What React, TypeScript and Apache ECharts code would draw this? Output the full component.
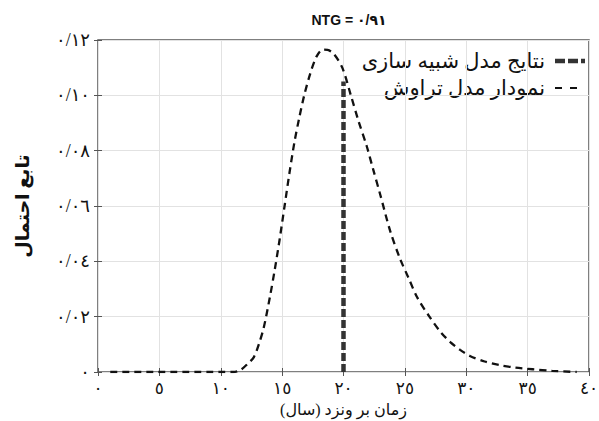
import React, { useEffect, useRef } from "react";
import * as echarts from "echarts";

// Seepage-model probability curve (x: years, y: probability)
const curveX = [1, 2, 3, 4, 5, 6, 7, 8, 9, 10, 11, 11.6, 12.2, 12.7, 13.1, 13.5, 14.0, 14.4, 14.8, 15.2, 15.6, 16.0, 16.4, 16.8, 17.3, 17.8, 18.3, 18.7, 19.2, 19.9, 20.6, 21.2, 21.9, 22.4, 23.0, 23.8, 24.6, 25.3, 26.0, 27.0, 27.9, 28.7, 29.5, 30.3, 31.5, 32.7, 34.0, 35.4, 37.0, 39.0];
const curveY = [0, 0, 0, 0, 0, 0, 0, 0, 0, 0, 0, 0.0007, 0.003, 0.0054, 0.010, 0.016, 0.027, 0.037, 0.048, 0.060, 0.072, 0.083, 0.092, 0.100, 0.108, 0.114, 0.1165, 0.1164, 0.115, 0.110, 0.100, 0.091, 0.0815, 0.0735, 0.064, 0.051, 0.041, 0.034, 0.027, 0.020, 0.0145, 0.0108, 0.008, 0.0058, 0.0038, 0.0025, 0.0016, 0.001, 0.0004, 0];

// Simulation model result (vertical line)
const simX = [20, 20];
const simY = [0, 0.105];

const titleText = "NTG = ٠/٩١";
const legendNames = ["نتایج مدل شبیه سازی", "نمودار مدل تراوش"];
const xAxisName = "زمان بر ونزد (سال)";
const yAxisName = "تابع احتمال";

const digits = ["٠", "١", "٢", "٣", "٤", "٥", "٦", "٧", "٨", "٩"];
const toFa = (s: string) => s.replace(/[0-9]/g, (d) => digits[Number(d)]);

const FONT = "'Times New Roman', 'Liberation Serif', 'DejaVu Sans', serif";

export default function App() {
  const ref = useRef<HTMLDivElement>(null);
  useEffect(() => {
    if (!ref.current) return;
    const chart = echarts.init(ref.current, undefined, { renderer: "svg" });
    const tick = { show: true, inside: true, length: 4, lineStyle: { color: "#555" } };
    chart.setOption({
      animation: false,
      backgroundColor: "#fff",
      title: {
        text: titleText,
        left: 344,
        textAlign: "center",
        top: 8,
        textStyle: { fontFamily: "Arial, 'Liberation Sans', 'DejaVu Sans', sans-serif", fontSize: 14, fontWeight: "bold", color: "#111" },
      },
      grid: {
        left: 98,
        right: 10,
        top: 40,
        bottom: 49,
        show: true,
        borderColor: "#555",
        borderWidth: 1.5,
        backgroundColor: "transparent",
        outerBoundsMode: "none",
        containLabel: false,
      },
      xAxis: [
        {
          type: "value",
          min: 0,
          max: 40,
          interval: 5,
          name: xAxisName,
          nameLocation: "middle",
          nameGap: 27,
          nameTextStyle: { fontFamily: FONT, fontSize: 16, color: "#111", verticalAlign: "top" },
          axisLine: { show: false },
          axisTick: tick,
          axisLabel: { formatter: (v: number) => toFa(String(v)), fontFamily: FONT, fontSize: 17, color: "#111", margin: 8 },
          splitLine: { show: true, lineStyle: { color: "#e2e2e2", width: 1 } },
        },
        {
          type: "value",
          position: "top",
          min: 0,
          max: 40,
          interval: 5,
          axisLine: { show: false },
          axisTick: tick,
          axisLabel: { show: false },
          splitLine: { show: false },
        },
      ],
      yAxis: [
        {
          type: "value",
          min: 0,
          max: 0.12,
          interval: 0.02,
          name: yAxisName,
          nameLocation: "middle",
          nameGap: 66,
          nameRotate: 90,
          nameTextStyle: { fontFamily: FONT, fontSize: 19, fontWeight: "bold", color: "#111" },
          axisLine: { show: false },
          axisTick: tick,
          axisLabel: {
            formatter: (v: number) => (v === 0 ? "٠" : toFa(v.toFixed(2).replace(".", "/"))),
            fontFamily: FONT,
            fontSize: 18,
            color: "#111",
            margin: 8,
          },
          splitLine: { show: true, lineStyle: { color: "#e2e2e2", width: 1 } },
        },
        {
          type: "value",
          position: "right",
          min: 0,
          max: 0.12,
          interval: 0.02,
          axisLine: { show: false },
          axisTick: tick,
          axisLabel: { show: false },
          splitLine: { show: false },
        },
      ],
      series: [
        {
          name: legendNames[1],
          type: "line",
          data: curveX.map((x, i) => [x, curveY[i]]),
          showSymbol: false,
          smooth: 0.3,
          lineStyle: { color: "#111", width: 2.3, type: [7, 5] },
          z: 2,
        },
        {
          name: legendNames[0],
          type: "line",
          data: simX.map((x, i) => [x, simY[i]]),
          showSymbol: false,
          lineStyle: { color: "#333", width: 4.5, type: [8, 3] },
          z: 3,
        },
      ],
      graphic: [
        { type: "line", shape: { x1: 555, y1: 61, x2: 585, y2: 61 }, style: { stroke: "#333", lineWidth: 4.5, lineDash: [10, 3] } },
        { type: "text", x: 545, y: 61, style: { text: legendNames[0], textAlign: "right", textVerticalAlign: "middle", font: `21px ${FONT}`, fill: "#111" } },
        { type: "line", shape: { x1: 555, y1: 88, x2: 585, y2: 88 }, style: { stroke: "#111", lineWidth: 2, lineDash: [7, 8] } },
        { type: "text", x: 545, y: 88, style: { text: legendNames[1], textAlign: "right", textVerticalAlign: "middle", font: `21px ${FONT}`, fill: "#111" } },
      ],
    });
    return () => chart.dispose();
  }, []);
  return <div ref={ref} style={{ position: "fixed", left: 0, top: 0, width: 599, height: 421 }} />;
}
